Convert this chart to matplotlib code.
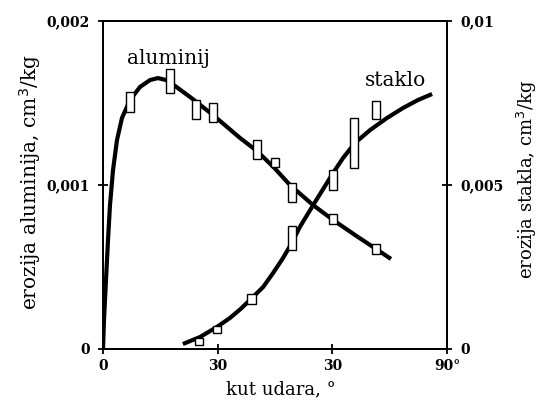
import matplotlib
matplotlib.use("Agg")
import matplotlib.pyplot as plt

# kut udara (stupnjevi) i izmjerene vrijednosti, ocitano sa slike
al_kut = [7.1, 17.5, 24.3, 28.8, 40.3, 45.0, 49.5, 60.2, 71.4]
al_min = [0.001445, 0.001561, 0.001402, 0.001384, 0.001159, 0.001110, 0.000896, 0.000762, 0.000579]
al_max = [0.001567, 0.001707, 0.001518, 0.001500, 0.001274, 0.001165, 0.001012, 0.000823, 0.000640]

gl_kut = [25.1, 29.8, 38.9, 49.4, 60.2, 65.7, 71.4]
gl_min = [0.000122, 0.000488, 0.001372, 0.00302, 0.00485, 0.00552, 0.00701]
gl_max = [0.000335, 0.000701, 0.001677, 0.00375, 0.00546, 0.00704, 0.00756]

# krivulje (ocitane tocke)
al_krivulja_x = [0, 0.26, 0.78, 1.31, 1.83, 2.62, 3.66, 4.97, 7.06, 9.68, 12.3, 14.39,
                 16.48, 18.84, 22.76, 28.78, 35.84, 40.29, 44.8, 48.92, 54.94, 60.18,
                 65.93, 71.43, 75.35]
al_krivulja_y = [0, 0.000177, 0.000421, 0.000665, 0.000878, 0.001091, 0.001274, 0.001409,
                 0.001518, 0.001598, 0.00164, 0.001652, 0.00164, 0.001604, 0.001537, 0.001427,
                 0.001287, 0.001207, 0.001105, 0.001, 0.000878, 0.000787, 0.000695,
                 0.00061, 0.000549]

gl_krivulja_x = [20.9, 25.4, 29.8, 33.2, 36.0, 38.7, 41.9, 44.5, 47.1, 49.4, 51.5, 55.0,
                 57.6, 60.2, 62.8, 65.9, 69.9, 74.3, 78.5, 82.4, 86.1]
gl_krivulja_y = [0.000152, 0.000366, 0.000671, 0.000945, 0.00122, 0.001524, 0.00189,
                 0.002317, 0.002774, 0.003232, 0.00372, 0.00439, 0.004878, 0.005366,
                 0.005823, 0.00628, 0.006677, 0.007043, 0.007348, 0.007591, 0.007774]

x_ticks = [0, 30, 60, 90]
x_tick_labels = ["0", "30", "30", "90°"]
al_ticks = [0, 0.001, 0.002]
al_tick_labels = ["0", "0,001", "0,002"]
gl_ticks = [0, 0.005, 0.01]
gl_tick_labels = ["0", "0,005", "0,01"]

plt.rcParams["font.family"] = "DejaVu Serif"

fig = plt.figure(figsize=(5.4, 4), dpi=100)
ax = fig.add_axes([103 / 540, 51 / 400, 344 / 540, 328 / 400])
ax2 = ax.twinx()

ax.plot(al_krivulja_x, al_krivulja_y, color="black", lw=3, solid_capstyle="butt",
        solid_joinstyle="round", zorder=2)
ax.bar(al_kut, [h - l for l, h in zip(al_min, al_max)], bottom=al_min, width=2.2,
       facecolor="white", edgecolor="black", linewidth=1.0, zorder=3)

ax2.plot(gl_krivulja_x, gl_krivulja_y, color="black", lw=3, solid_capstyle="butt",
         solid_joinstyle="round", zorder=2)
ax2.bar(gl_kut, [h - l for l, h in zip(gl_min, gl_max)], bottom=gl_min, width=2.2,
        facecolor="white", edgecolor="black", linewidth=1.0, zorder=3)

ax.set_xlim(0, 90)
ax.set_ylim(0, 0.002)
ax2.set_ylim(0, 0.01)

ax.set_xticks(x_ticks)
ax.set_xticklabels(x_tick_labels)
ax.set_yticks(al_ticks)
ax.set_yticklabels(al_tick_labels)
ax2.set_yticks(gl_ticks)
ax2.set_yticklabels(gl_tick_labels)

for a in (ax, ax2):
    for s in a.spines.values():
        s.set_linewidth(1.4)
    a.tick_params(direction="inout", length=7, width=1.3, labelsize=10)
    for lab in a.get_xticklabels() + a.get_yticklabels():
        lab.set_fontweight("bold")
ax.tick_params(axis="y", pad=6)
ax2.tick_params(axis="y", pad=6)

ax.text(17.1, 0.00177, "aluminij", fontsize=14.5, ha="center", va="center")
ax2.text(76.6, 0.00820, "staklo", fontsize=14.5, ha="center", va="center")

fig.text(30 / 540, 1 - 182 / 400, "erozija aluminija, cm$^3$/kg", rotation=90,
         ha="center", va="center", fontsize=14.5)
fig.text(527 / 540, 1 - 179 / 400, "erozija stakla, cm$^3$/kg", rotation=90,
         ha="center", va="center", fontsize=13)
fig.text(281 / 540, 1 - 389 / 400, "kut udara, °", ha="center", va="center", fontsize=13)

fig.savefig("out.png", dpi=100)
